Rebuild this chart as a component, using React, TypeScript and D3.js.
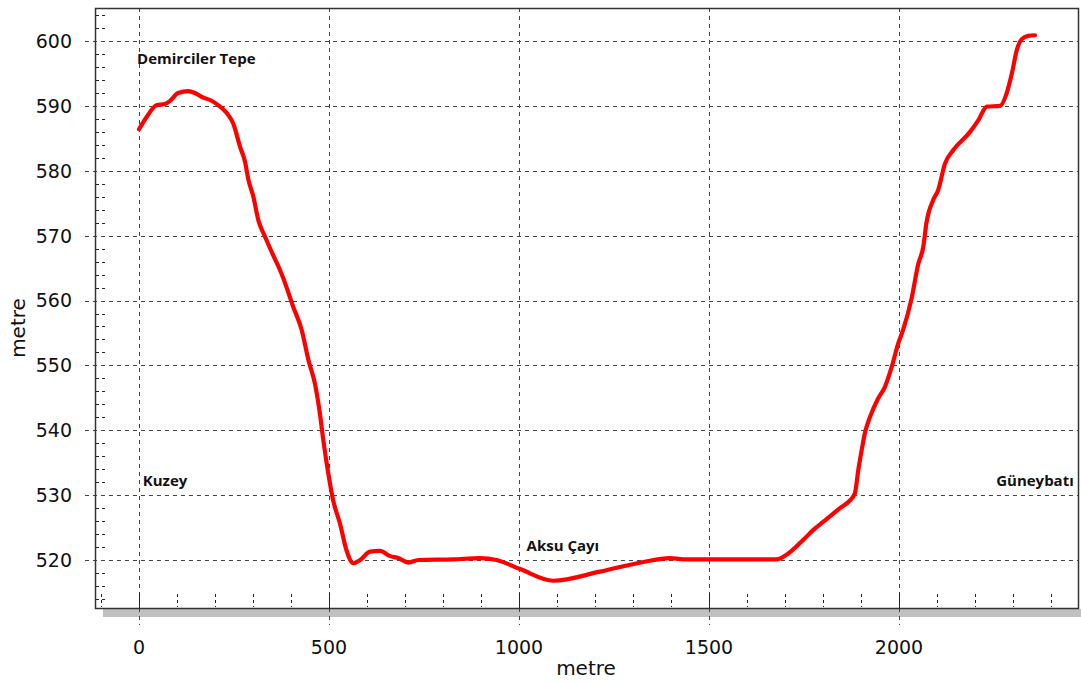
import React from "react";
import * as d3 from "d3";

const distance = [0, 20, 46, 68, 82, 103, 130, 147, 165, 191, 209, 231, 248, 266, 279, 288, 301, 314, 332, 353, 371, 380, 406, 428, 446, 463, 476, 485, 498, 511, 529, 546, 564, 582, 608, 634, 661, 682, 709, 735, 827, 897, 941, 1003, 1090, 1213, 1327, 1397, 1432, 1678, 1704, 1748, 1774, 1801, 1845, 1871, 1884, 1893, 1902, 1910, 1924, 1945, 1963, 1981, 1998, 2011, 2033, 2051, 2064, 2072, 2090, 2103, 2121, 2143, 2187, 2209, 2231, 2266, 2283, 2297, 2310, 2323, 2340, 2358];
const elevation = [586.4, 588.3, 590.1, 590.3, 590.8, 592.0, 592.3, 592.0, 591.4, 590.8, 590.1, 588.9, 587.3, 583.7, 581.4, 578.6, 576.0, 572.4, 569.8, 567.0, 564.7, 563.4, 559.0, 555.5, 550.8, 547.2, 542.6, 538.5, 533.4, 529.2, 525.6, 521.5, 519.5, 520.0, 521.3, 521.4, 520.6, 520.3, 519.6, 520.0, 520.1, 520.3, 520.0, 518.6, 516.8, 518.2, 519.7, 520.3, 520.1, 520.1, 520.8, 523.1, 524.6, 525.9, 528.0, 529.2, 530.3, 533.9, 537.0, 539.5, 542.1, 544.9, 546.7, 549.8, 553.4, 555.5, 560.3, 565.7, 568.3, 571.9, 575.5, 577.0, 581.1, 583.2, 586.0, 587.8, 589.9, 590.0, 591.9, 595.0, 598.6, 600.3, 600.8, 600.9];

const xTicks = [0, 500, 1000, 1500, 2000];
const yTicks = [520, 530, 540, 550, 560, 570, 580, 590, 600];
const xMinor = d3.range(-100, 2470, 100);
const yMinor = d3.range(514, 606, 2);

const annotations = [
  { text: "Demirciler Tepe", x: -5, y: 596.5, anchor: "start" },
  { text: "Kuzey", x: 10, y: 531.4, anchor: "start" },
  { text: "Güneybatı", x: 2460, y: 531.4, anchor: "end" },
  { text: "Aksu Çayı", x: 1020, y: 521.4, anchor: "start" },
];

export default function App() {
  const W = 1081, H = 682;
  const L = 95, R = 1079, T = 8, B = 608;
  const x = d3.scaleLinear().domain([-115.8, 2473.7]).range([L, R]);
  const y = d3.scaleLinear().domain([512.6, 605.1]).range([B, T]);
  const pts: [number, number][] = distance.map((d, i) => [d, elevation[i]]);
  const line = d3.line<[number, number]>().x(d => x(d[0])).y(d => y(d[1])).curve(d3.curveMonotoneX);
  const grid = "#444";
  const font = "'DejaVu Sans', Verdana, sans-serif";
  const afont = "'Open Sans', Lato, sans-serif";
  return (
    <svg width={W} height={H} style={{ position: "absolute", left: 0, top: 0, background: "#fff" }}>
      <rect x={0} y={0} width={W} height={H} fill="#fff" />
      <rect x={103} y={609} width={W - 103} height={8} fill="#c0c0c0" />
      {yTicks.map(t => (
        <line key={"hy" + t} x1={85} x2={R} y1={Math.round(y(t)) + 0.5} y2={Math.round(y(t)) + 0.5} stroke={grid} strokeWidth={1} strokeDasharray="4,4" />
      ))}
      {xTicks.map(t => (
        <line key={"vx" + t} x1={Math.round(x(t)) + 0.5} x2={Math.round(x(t)) + 0.5} y1={T} y2={625} stroke={grid} strokeWidth={1} strokeDasharray="4,4" />
      ))}
      {yMinor.filter(v => v % 10 !== 0).map(t => (
        <line key={"my" + t} x1={96} x2={105} y1={Math.round(y(t)) + 0.5} y2={Math.round(y(t)) + 0.5} stroke="#222" strokeWidth={1} strokeDasharray="3,3" />
      ))}
      {xMinor.filter(v => v % 500 !== 0).map(t => (
        <line key={"mx" + t} x1={Math.round(x(t)) + 0.5} x2={Math.round(x(t)) + 0.5} y1={594} y2={607} stroke="#222" strokeWidth={1} strokeDasharray="3,3" />
      ))}
      {xTicks.map(t => (
        <line key={"tx" + t} x1={Math.round(x(t)) + 0.5} x2={Math.round(x(t)) + 0.5} y1={593} y2={608} stroke="#222" strokeWidth={1} />
      ))}
      <rect x={L + 0.5} y={T + 0.5} width={R - L - 1} height={B - T} fill="none" stroke="#333" strokeWidth={1.5} />
      <path d={line(pts) || ""} fill="none" stroke="#ff0000" strokeWidth={4.2} strokeLinejoin="round" strokeLinecap="round" />
      {annotations.map(a => (
        <text key={a.text} x={x(a.x)} y={y(a.y)} textAnchor={a.anchor as any} fontFamily={afont} fontWeight={700} fontSize={15} fill="#111">{a.text}</text>
      ))}
      {yTicks.map(t => (
        <text key={"ly" + t} x={72} y={y(t)} dy="0.36em" textAnchor="end" fontFamily={font} fontSize={19} fill="#111">{t}</text>
      ))}
      {xTicks.map(t => (
        <text key={"lx" + t} x={x(t)} y={654} textAnchor="middle" fontFamily={font} fontSize={19} fill="#111">{t}</text>
      ))}
      <text x={586} y={675} textAnchor="middle" fontFamily={font} fontSize={20} fill="#111">metre</text>
      <text transform={`translate(25,328) rotate(-90)`} textAnchor="middle" fontFamily={font} fontSize={20} fill="#111">metre</text>
    </svg>
  );
}
